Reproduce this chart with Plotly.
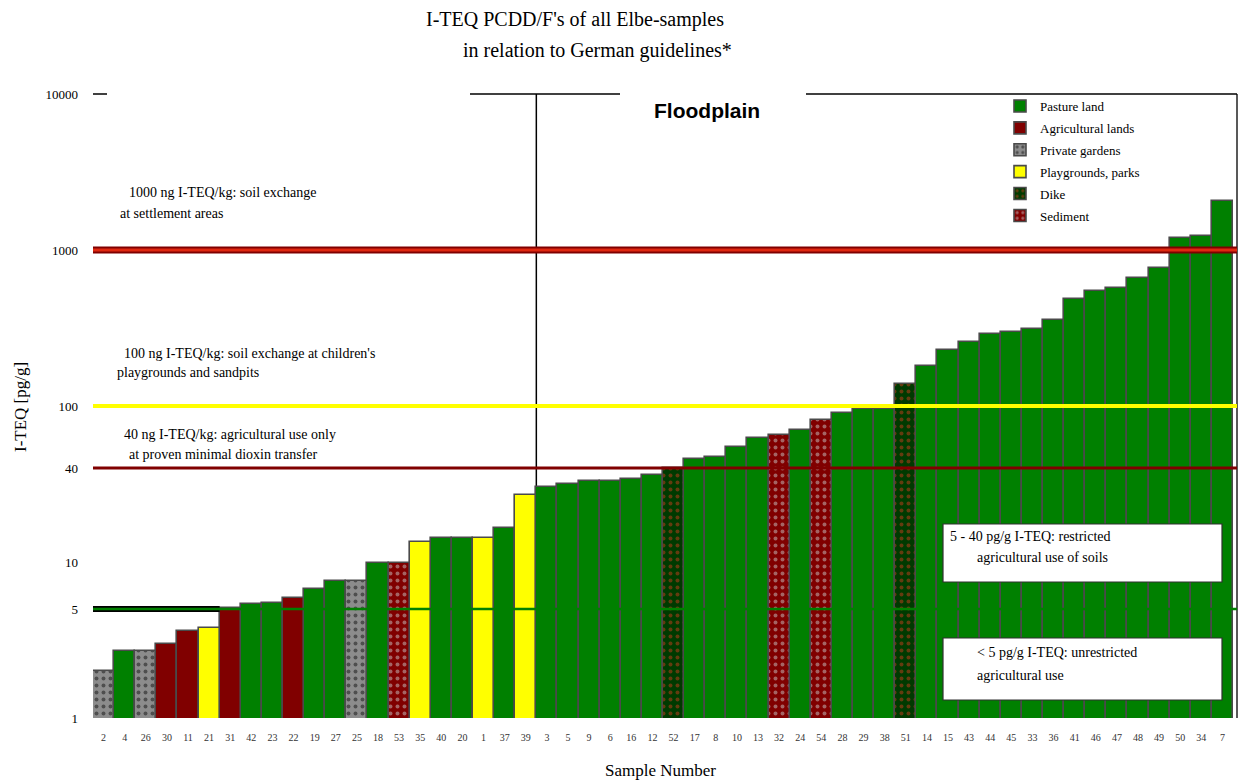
import plotly.graph_objects as go

# Sample numbers in ascending order of I-TEQ
samples = ["2", "4", "26", "30", "11", "21", "31", "42", "23", "22",
           "19", "27", "25", "18", "53", "35", "40", "20", "1", "37",
           "39", "3", "5", "9", "6", "16", "12", "52", "17", "8",
           "10", "13", "32", "24", "54", "28", "29", "38", "51", "14",
           "15", "43", "44", "45", "33", "36", "41", "46", "47", "48",
           "49", "50", "34", "7"]

# I-TEQ PCDD/F [pg/g]
teq = [2.0, 2.7, 2.7, 3.0, 3.6, 3.8, 5.1, 5.4, 5.5, 5.9,
       6.7, 7.5, 7.5, 9.8, 9.8, 13.4, 14.3, 14.3, 14.3, 16.5,
       27, 30.4, 31.4, 33, 33, 34, 36.3, 40, 45.6, 46.8,
       55, 62, 65, 70, 81, 90, 96, 96, 138, 180,
       229, 257, 291, 299, 310, 356, 485, 543, 569, 659,
       764, 1196, 1235, 2050]

PAST, AGRI, GARD, PLAY, DIKE, SEDI = ("Pasture land", "Agricultural lands", "Private gardens",
                                      "Playgrounds, parks", "Dike", "Sediment")
land_use = [GARD, PAST, GARD, AGRI, AGRI, PLAY, AGRI, PAST, PAST, AGRI,
            PAST, PAST, GARD, PAST, SEDI, PLAY, PAST, PAST, PLAY, PAST,
            PLAY, PAST, PAST, PAST, PAST, PAST, PAST, DIKE, PAST, PAST,
            PAST, PAST, SEDI, PAST, SEDI, PAST, PAST, PAST, DIKE, PAST,
            PAST, PAST, PAST, PAST, PAST, PAST, PAST, PAST, PAST, PAST,
            PAST, PAST, PAST, PAST]

legend_order = [PAST, AGRI, GARD, PLAY, DIKE, SEDI]

# German guideline values [pg/g I-TEQ]
guide_values = [1000, 100, 40, 5]

# first sample taken in the floodplain (index into samples)
floodplain_start = 21

y_ticks = [1, 5, 10, 40, 100, 1000, 10000]

styles = {
    PAST: dict(color="#008000"),
    AGRI: dict(color="#800000"),
    GARD: dict(color="#808080",
               pattern=dict(shape=".", bgcolor="#8c8c8c", fgcolor="#101010", size=7, solidity=0.25)),
    PLAY: dict(color="#ffff00"),
    DIKE: dict(color="#003a00",
               pattern=dict(shape=".", bgcolor="#003a00", fgcolor="#c83c1e", size=7, solidity=0.25)),
    SEDI: dict(color="#800000",
               pattern=dict(shape=".", bgcolor="#800000", fgcolor="#c8c8c8", size=7, solidity=0.25)),
}

SERIF = "Liberation Serif"

fig = go.Figure()
for k, cat in enumerate(legend_order):
    xs = [s for s, u in zip(samples, land_use) if u == cat]
    ys = [v for v, u in zip(teq, land_use) if u == cat]
    st = styles[cat]
    marker = dict(color=st["color"], line=dict(color="#4a4a4a", width=1.6))
    if "pattern" in st:
        marker["pattern"] = st["pattern"]
    fig.add_trace(go.Bar(x=xs, y=ys, name=cat, marker=marker,
                         legendgroup=f"g{k}", width=1.0))

# plot area in pixels
L, R, T, B = 93, 1237, 94, 718
W, H = 1241, 780


def px_x(x):
    return (x - L) / (R - L)


def px_y(y):
    return (B - y) / (B - T)


shapes = []
line_styles = {
    1000: [dict(color="#800000", width=7), dict(color="#e02810", width=3)],
    100: [dict(color="#ffff00", width=4)],
    40: [dict(color="#800000", width=3)],
}
for gv in guide_values:
    for ls in line_styles.get(gv, []):
        shapes.append(dict(type="line", xref="paper", yref="y", x0=0, x1=1,
                           y0=gv, y1=gv, line=ls, layer="above"))

# 5 pg/g line: black-edged band in the open area, thin green across the bars
first_above5 = next(i for i, v in enumerate(teq) if v >= 5)
shapes.append(dict(type="line", xref="x", yref="y", x0=-0.5, x1=first_above5 - 0.5,
                   y0=5, y1=5, line=dict(color="#000000", width=6), layer="above"))
shapes.append(dict(type="line", xref="paper", yref="y", x0=0, x1=1,
                   y0=5, y1=5, line=dict(color="#008000", width=2.5), layer="above"))

# floodplain divider
shapes.append(dict(type="line", xref="x", yref="paper", x0=floodplain_start - 0.5,
                   x1=floodplain_start - 0.5, y0=0, y1=1,
                   line=dict(color="#000000", width=1.5), layer="below"))

# frame pieces
shapes.append(dict(type="line", xref="paper", yref="paper", x0=px_x(470), x1=px_x(620),
                   y0=1, y1=1, line=dict(color="#000000", width=1.5)))
shapes.append(dict(type="line", xref="paper", yref="paper", x0=px_x(806), x1=1,
                   y0=1, y1=1, line=dict(color="#000000", width=1.5)))
shapes.append(dict(type="line", xref="paper", yref="paper", x0=0, x1=px_x(107),
                   y0=1, y1=1, line=dict(color="#000000", width=1.5)))
shapes.append(dict(type="line", xref="paper", yref="paper", x0=1, x1=1,
                   y0=0, y1=1, line=dict(color="#222222", width=1.5), layer="below"))

# white explanation boxes
for (y0, y1) in [(524, 582), (638, 700)]:
    shapes.append(dict(type="rect", xref="paper", yref="paper",
                       x0=px_x(943), x1=px_x(1222), y0=px_y(y1), y1=px_y(y0),
                       fillcolor="#ffffff", line=dict(color="#303030", width=1.2),
                       layer="above"))

ann = []


def text(x, y, s, size=14, anchor="left", **kw):
    ann.append(dict(xref="paper", yref="paper", x=px_x(x), y=px_y(y), text=s,
                    showarrow=False, xanchor=anchor, yanchor="middle",
                    font=dict(family=kw.pop("family", SERIF), size=size, color="#000000"),
                    **kw))


text(575, 20, "I-TEQ PCDD/F's of all Elbe-samples", size=20, anchor="center")
text(597, 50, "in relation to German guidelines*", size=20, anchor="center")

text(707, 110, "<b>Floodplain</b>", size=21, anchor="center", family="Liberation Sans")

text(127, 192, "1000 ng I-TEQ/kg: soil exchange")
text(118, 213, "at settlement areas")
text(122, 353, "100 ng I-TEQ/kg: soil exchange at children's")
text(115, 372, "playgrounds and sandpits")
text(122, 434, "40 ng I-TEQ/kg: agricultural use only")
text(127, 455, "at proven minimal dioxin transfer")

text(948, 536, "5 - 40 pg/g I-TEQ: restricted")
text(975, 557, "agricultural use of soils")
text(975, 652, "< 5 pg/g I-TEQ: unrestricted")
text(975, 675, "agricultural use")

text(20, 407, "I-TEQ [pg/g]", size=17, anchor="center", textangle=-90)
text(660, 770, "Sample Number", size=17, anchor="center")

fig.update_layout(
    width=W, height=H,
    margin=dict(l=L, r=W - R, t=T, b=H - B),
    paper_bgcolor="#ffffff", plot_bgcolor="#ffffff",
    barmode="overlay", bargap=0,
    showlegend=True,
    legend=dict(x=px_x(1000), y=px_y(91), xanchor="left", yanchor="top",
                bgcolor="rgba(0,0,0,0)", tracegroupgap=2,
                font=dict(family=SERIF, size=13, color="#000000"),
                traceorder="grouped"),
    shapes=shapes,
    annotations=ann,
    font=dict(family=SERIF, color="#000000"),
)

fig.update_xaxes(type="category", categoryorder="array", categoryarray=samples,
                 range=[-0.5, len(samples) - 0.5 + 0.19],
                 showgrid=False, zeroline=False, showline=False, ticks="",
                 tickfont=dict(family=SERIF, size=10, color="#333333"),
                 ticklabelstandoff=12, tickangle=0)
fig.update_yaxes(type="log", range=[0, 4], tickvals=y_ticks,
                 ticktext=[str(v) for v in y_ticks],
                 showgrid=False, zeroline=False, showline=False, ticks="",
                 tickfont=dict(family=SERIF, size=13, color="#000000"),
                 ticklabelstandoff=14)

fig.write_html("out.html")
